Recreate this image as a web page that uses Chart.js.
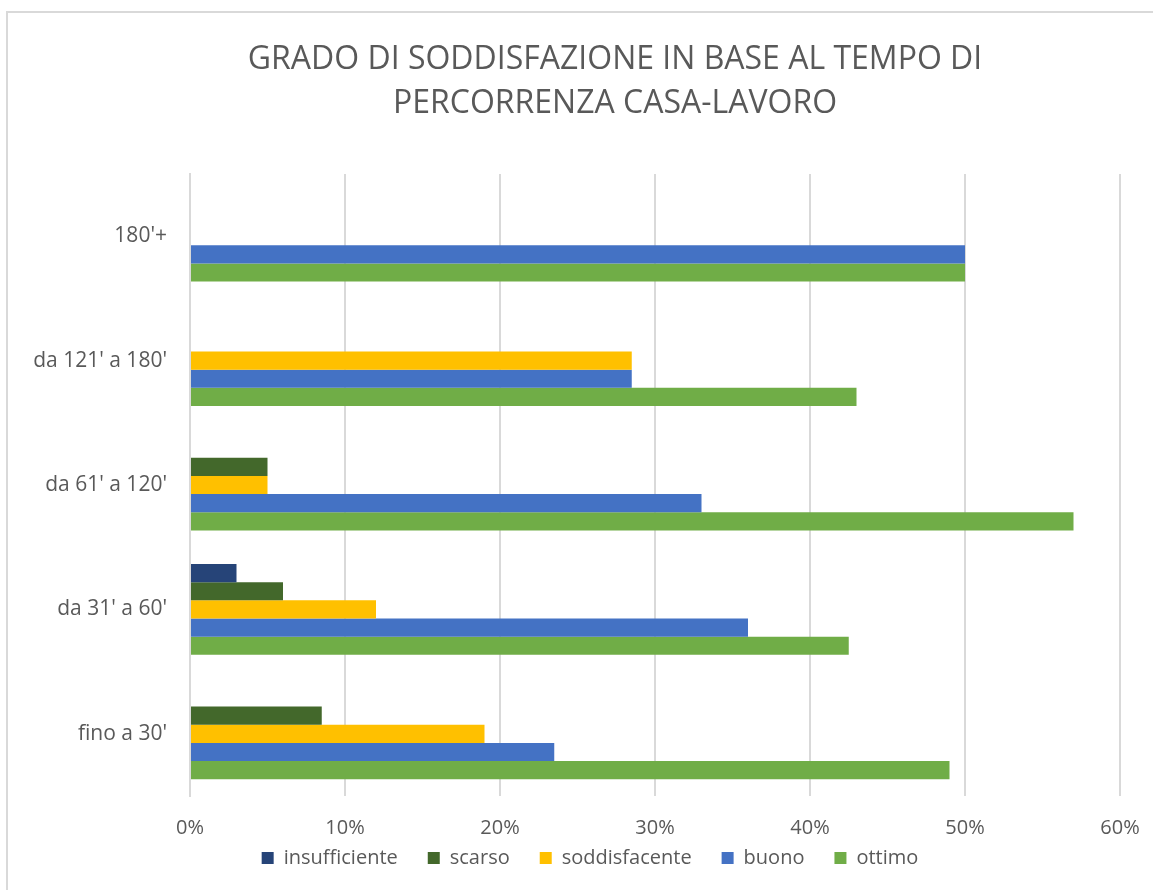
<!DOCTYPE html>
<html>
<head>
<meta charset="utf-8">
<script src="https://cdn.jsdelivr.net/npm/chart.js@4"></script>
<style>
  html, body { margin: 0; padding: 0; background: #fff; overflow: hidden; }
  #wrap { position: relative; width: 1153px; height: 890px; }
  #cornice { position: absolute; left: 6px; top: 11px; width: 1200px; height: 1000px;
             border: 2px solid #d9d9d9; box-sizing: border-box; }
  canvas { position: absolute; left: 0; top: 0; }
</style>
</head>
<body>
<div id="wrap">
  <div id="cornice"></div>
  <canvas id="grafico" width="1153" height="890"></canvas>
</div>
<script>
// --- dati ---
const categorie = ["180'+", "da 121' a 180'", "da 61' a 120'", "da 31' a 60'", "fino a 30'"];
const insufficiente = [0, 0, 0, 3, 0];
const scarso = [0, 0, 5, 6, 8.5];
const soddisfacente = [0, 28.5, 5, 12, 19];
const buono = [50, 28.5, 33, 36, 23.5];
const ottimo = [50, 43, 57, 42.5, 49];
const tickPercentuali = [0, 10, 20, 30, 40, 50, 60];

const grigio = '#595959';
const fontBase = "'Open Sans', 'DejaVu Sans', sans-serif";

function serie(label, data, colore) {
  return {
    label: label,
    data: data,
    backgroundColor: colore,
    borderWidth: 0,
    categoryPercentage: 0.73,
    barPercentage: 1
  };
}

// Excel centra titolo e legenda su tutta la larghezza del grafico (più larga della schermata)
const centraTesti = {
  id: 'centraTesti',
  afterLayout(chart) {
    if (chart.titleBlock) chart.titleBlock.left = 110;
    if (chart.legend) {
      const h = chart.legend.height;
      chart.legend.left = 60;
      chart.legend.top = 818;
      chart.legend.bottom = 818 + h;
    }
  }
};

const ctx = document.getElementById("grafico").getContext("2d");
new Chart(ctx, {
  type: 'bar',
  data: {
    labels: categorie,
    datasets: [
      serie('insufficiente', insufficiente, '#264478'),
      serie('scarso', scarso, '#43682B'),
      serie('soddisfacente', soddisfacente, '#FFC000'),
      serie('buono', buono, '#4472C4'),
      serie('ottimo', ottimo, '#70AD47')
    ]
  },
  plugins: [centraTesti],
  options: {
    indexAxis: 'y',
    responsive: false,
    animation: false,
    devicePixelRatio: 1,
    layout: { padding: { top: 0, left: 30, right: 33, bottom: -10 } },
    plugins: {
      title: {
        display: true,
        text: ['GRADO DI SODDISFAZIONE IN BASE AL TEMPO DI', 'PERCORRENZA CASA-LAVORO'],
        color: grigio,
        font: { family: fontBase, size: 32, weight: 'normal', lineHeight: 1.375 },
        padding: { top: 38, bottom: 48 }
      },
      legend: {
        position: 'bottom',
        labels: {
          color: grigio,
          boxWidth: 12,
          boxHeight: 12,
          padding: 30,
          font: { family: fontBase, size: 20 }
        }
      },
      tooltip: { enabled: false }
    },
    scales: {
      x: {
        min: 0,
        max: 60,
        afterFit: s => { s.height = 44; s.paddingLeft = 0; s.paddingRight = 0; },
        grid: { color: '#d9d9d9', lineWidth: 2, drawTicks: false },
        border: { display: false },
        ticks: {
          stepSize: 10,
          color: grigio,
          padding: 20,
          font: { family: fontBase, size: 20 },
          callback: v => tickPercentuali.includes(v) ? v + '%' : ''
        }
      },
      y: {
        afterFit: s => { s.width = 160; },
        grid: { display: false, drawTicks: false },
        border: { display: true, color: '#d9d9d9', width: 2 },
        ticks: {
          color: grigio,
          padding: 23,
          font: { family: fontBase, size: 21 }
        }
      }
    }
  }
});
</script>
</body>
</html>
